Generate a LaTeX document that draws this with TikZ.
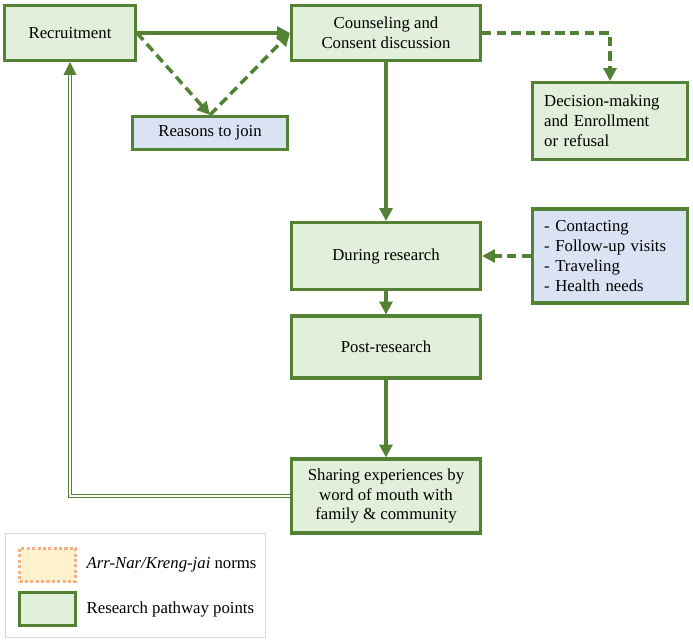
\documentclass[tikz,border=0pt]{standalone}
\usepackage{fontspec}
\setmainfont{Liberation Serif}
\usepackage{xcolor}
\usepackage{tikz}
\usetikzlibrary{arrows.meta,positioning,calc}
\definecolor{cGreen}{HTML}{548235}
\definecolor{cGreenFill}{HTML}{E2EFDA}
\definecolor{cBlueFill}{HTML}{DAE3F3}
\definecolor{cOrange}{HTML}{F4B183}
\definecolor{cCream}{HTML}{FFF2CC}
\definecolor{cFrame}{HTML}{D9D9D9}
\newcommand{\bodyfont}{\fontsize{14.3}{17}\selectfont}
\tikzset{
  pbox/.style={draw=cGreen,fill=#1,line width=2.6pt,align=center,font=\bodyfont,inner sep=3pt},
  pbox/.default=cGreenFill,
  arr/.style={-{Triangle[length=11pt,width=11pt]},line width=3pt,color=cGreen},
  darr/.style={arr,dash pattern=on 8pt off 4.5pt},
  dbl/.style={-{Triangle[length=11pt,width=11pt]},draw=cGreen,double=white,double distance=1.8pt,line width=0.9pt},
  swatch/.style={minimum width=1.68cm,minimum height=0.99cm,anchor=north west},
  lgtext/.style={font=\bodyfont,anchor=west,inner sep=0pt},
}
\begin{document}
\begin{tikzpicture}[x=0.03cm,y=-0.03cm]
    \useasboundingbox (0,0) rectangle (693,640);
    % pathway points
    \node[pbox,minimum width=3.93cm,minimum height=1.65cm] (rec) at (70,33) {Recruitment};
    \node[pbox,minimum width=5.67cm,minimum height=1.65cm] (cns) at (386,33) {Counseling and\\Consent discussion};
    \node[pbox=cBlueFill,minimum width=4.65cm,minimum height=0.99cm] (rsn) at (210,133) {Reasons to join};
    \node[pbox,minimum width=4.65cm,minimum height=2.31cm,align=left,text width=3.95cm] (dec) at (610,121) {Decision-making\\and Enrollment\\or refusal};
    \node[pbox,minimum width=5.67cm,minimum height=2.01cm] (dur) at (386,256) {During research};
    \node[pbox=cBlueFill,minimum width=4.65cm,minimum height=2.82cm,align=left,text width=3.95cm] (lst) at (610,256) {- Contacting\\- Follow-up visits\\- Traveling\\- Health needs};
    \node[pbox,minimum width=5.67cm,minimum height=1.86cm] (pst) at (386,347) {Post-research};
    \node[pbox,minimum width=5.67cm,minimum height=2.22cm] (shr) at (386,496) {Sharing experiences by\\word of mouth with\\family \& community};

    % connectors
    \draw[arr] (rec.east) -- (cns.west);
    \draw[darr] (rec.east) -- (rsn.north);
    \draw[darr] (rsn.north) -- (cns.west);
    \draw[darr] (cns.east) -| (dec.north);
    \draw[arr] (cns.south) -- (dur.north);
    \draw[darr] (lst.west) -- (dur.east);
    \draw[arr] (dur.south) -- (pst.north);
    \draw[arr] (pst.south) -- (shr.north);
    \draw[dbl] (shr.west) -| (rec.south);

    % legend
    \node[draw=cFrame,line width=1pt,minimum width=7.8cm,minimum height=3.12cm,anchor=north west] (lgd) at (5,533) {};
    \node[swatch,draw=cOrange,fill=cCream,line width=2.6pt,dotted] (sw1) at (18,547) {};
    \node[swatch,draw=cGreen,fill=cGreenFill,line width=2.6pt] (sw2) at (18,591) {};
    \node[lgtext,right=8pt of sw1.east] (lg1) {\textit{Arr-Nar/Kreng-jai} norms};
    \node[lgtext,right=8pt of sw2.east] (lg2) {Research pathway points};
  \end{tikzpicture}
\end{document}
